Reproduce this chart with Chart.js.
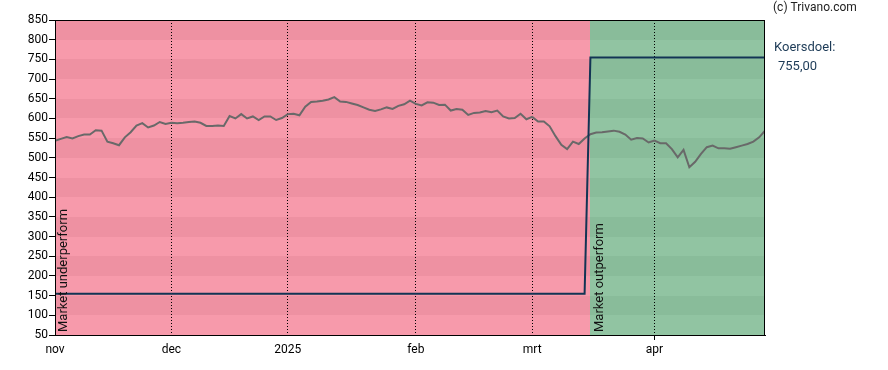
<!DOCTYPE html>
<html>
<head>
<meta charset="utf-8">
<script src="https://cdn.jsdelivr.net/npm/chart.js@4/dist/chart.umd.min.js"></script>
<style>
  html, body { margin: 0; padding: 0; background: #ffffff; }
  #wrap { width: 888px; height: 370px; position: relative; }
</style>
</head>
<body>
<div id="wrap"><canvas id="c" width="888" height="370"></canvas></div>
<script>
// ---- data (x = trading-day index since start of November) ----
const monthTickIndex = [0, 20, 40, 62, 82, 103];
const monthTickLabels = ['nov', 'dec', '2025', 'feb', 'mrt', 'apr'];
const lastIndex = 122;

const priceValues = [
  543, 548, 553, 549, 555, 559, 559, 570, 569, 541,
  537, 532, 552, 565, 582, 588, 577, 582, 591, 586,
  589, 588, 589, 591, 592, 589, 581, 581, 582, 581,
  606, 600, 611, 600, 605, 596, 605, 605, 596, 601,
  611, 612, 608, 630, 642, 643, 645, 648, 654, 643,
  642, 638, 634, 628, 622, 619, 623, 628, 624, 632,
  636, 645, 637, 633, 641, 640, 634, 635, 620, 624,
  622, 609, 614, 615, 619, 616, 620, 605, 600, 601,
  612, 598, 604, 592, 592, 580, 555, 533, 522, 541,
  535, 549, 560, 564, 565, 567, 569, 566, 559, 546,
  550, 549, 539, 544, 537, 537, 522, 501, 520, 476,
  490, 510, 527, 531, 524, 524, 523, 527, 531, 535,
  541, 552, 569
];

const targetIndex = [0, 91, 92, 122];
const targetValues = [155, 155, 755, 755];

const ratingLabels = ['Market underperform', 'Market outperform'];
const ratingStart = [0, 92];

const yMin = 50, yMax = 850, yStep = 50;

// ---- build library data ----
const pricePoints = priceValues.map((v, i) => ({ x: i, y: v }));
const targetPoints = targetIndex.map((x, i) => ({ x: x, y: targetValues[i] }));

Chart.defaults.font.family = 'Roboto';

const bandsPlugin = {
  id: 'bands',
  beforeDraw(chart) {
    const { ctx, chartArea, scales } = chart;
    const xs = scales.x, ys = scales.y;
    const palettes = {
      'Market underperform': ['rgb(247,154,171)', 'rgb(238,145,162)'],
      'Market outperform': ['rgb(145,196,162)', 'rgb(137,188,154)']
    };
    ctx.save();
    for (let r = 0; r < ratingLabels.length; r++) {
      const x0 = Math.round(xs.getPixelForValue(ratingStart[r]));
      const x1 = Math.round(r + 1 < ratingStart.length ? xs.getPixelForValue(ratingStart[r + 1]) : chartArea.right);
      const pal = palettes[ratingLabels[r]];
      for (let v = yMin; v < yMax; v += yStep) {
        const yTop = Math.round(ys.getPixelForValue(v + yStep));
        const yBot = Math.round(ys.getPixelForValue(v));
        const dark = ((v + yStep) / yStep) % 2 === 1;
        ctx.fillStyle = dark ? pal[1] : pal[0];
        ctx.fillRect(x0, yTop, x1 - x0, yBot - yTop);
      }
    }
    ctx.restore();
  },
  afterDatasetsDraw(chart) {
    const { ctx, chartArea, scales } = chart;
    const xs = scales.x;
    ctx.save();
    ctx.fillStyle = '#111';
    ctx.font = '13px Roboto';
    ctx.textAlign = 'left';
    ctx.textBaseline = 'top';
    for (let r = 0; r < ratingLabels.length; r++) {
      const x0 = xs.getPixelForValue(ratingStart[r]);
      ctx.save();
      ctx.translate(x0 + 2.5, chartArea.bottom - 3);
      ctx.rotate(-Math.PI / 2);
      ctx.fillText(ratingLabels[r], 0, 0);
      ctx.restore();
    }
    // frame
    ctx.strokeStyle = '#000';
    ctx.lineWidth = 1;
    ctx.strokeRect(Math.round(chartArea.left) + 0.5, Math.round(chartArea.top) + 0.5,
      Math.round(chartArea.right - chartArea.left) - 1, Math.round(chartArea.bottom - chartArea.top));
    // right side texts
    ctx.textBaseline = 'middle';
    ctx.font = '12px Roboto';
    ctx.fillStyle = '#222';
    ctx.fillText('(c) Trivano.com', chartArea.right + 8, 8);
    ctx.font = '13px Roboto';
    ctx.fillStyle = '#1d3b57';
    ctx.fillText('Koersdoel:', chartArea.right + 9, 48);
    const lastTarget = targetValues[targetValues.length - 1];
    ctx.fillText(lastTarget.toFixed(2).replace('.', ','), chartArea.right + 13, 66.5);
    ctx.restore();
  }
};

new Chart(document.getElementById('c'), {
  type: 'line',
  data: {
    datasets: [
      {
        label: 'Koersdoel',
        data: targetPoints,
        borderColor: 'rgb(18,52,84)',
        borderWidth: 2,
        pointRadius: 0,
        tension: 0,
        fill: false
      },
      {
        label: 'Koers',
        data: pricePoints,
        borderColor: 'rgb(105,105,105)',
        borderWidth: 2,
        pointRadius: 0,
        tension: 0,
        fill: false
      }
    ]
  },
  options: {
    responsive: false,
    animation: false,
    events: [],
    layout: { padding: { top: 20, right: 123, left: 0, bottom: 0 } },
    plugins: { legend: { display: false }, tooltip: { enabled: false } },
    scales: {
      x: {
        type: 'linear',
        min: 0,
        max: lastIndex,
        afterBuildTicks(scale) {
          scale.ticks = monthTickIndex.map(v => ({ value: v }));
        },
        afterFit(scale) { scale.height = 35; },
        ticks: {
          autoSkip: false,
          maxRotation: 0,
          color: '#000',
          font: { size: 12 },
          padding: 3,
          callback(value) {
            const k = monthTickIndex.indexOf(value);
            return k >= 0 ? monthTickLabels[k] : '';
          }
        },
        grid: {
          color: ctx => (ctx.tick && ctx.tick.value === monthTickIndex[0]) ? 'rgba(0,0,0,0)' : '#000',
          lineWidth: 1,
          drawTicks: true,
          tickLength: 5,
          tickColor: ctx => (ctx.index === monthTickIndex.length - 1) ? '#000' : 'rgba(0,0,0,0)'
        },
        border: { display: true, color: '#000', dash: [1, 2] }
      },
      y: {
        type: 'linear',
        min: yMin,
        max: yMax,
        afterFit(scale) { scale.width = 55; },
        ticks: {
          stepSize: yStep,
          color: '#000',
          font: { size: 12 },
          padding: 1
        },
        grid: {
          drawOnChartArea: false,
          drawTicks: true,
          tickLength: 6,
          tickColor: '#000'
        },
        border: { display: true, color: '#000' }
      }
    }
  },
  plugins: [bandsPlugin]
});
</script>
</body>
</html>
